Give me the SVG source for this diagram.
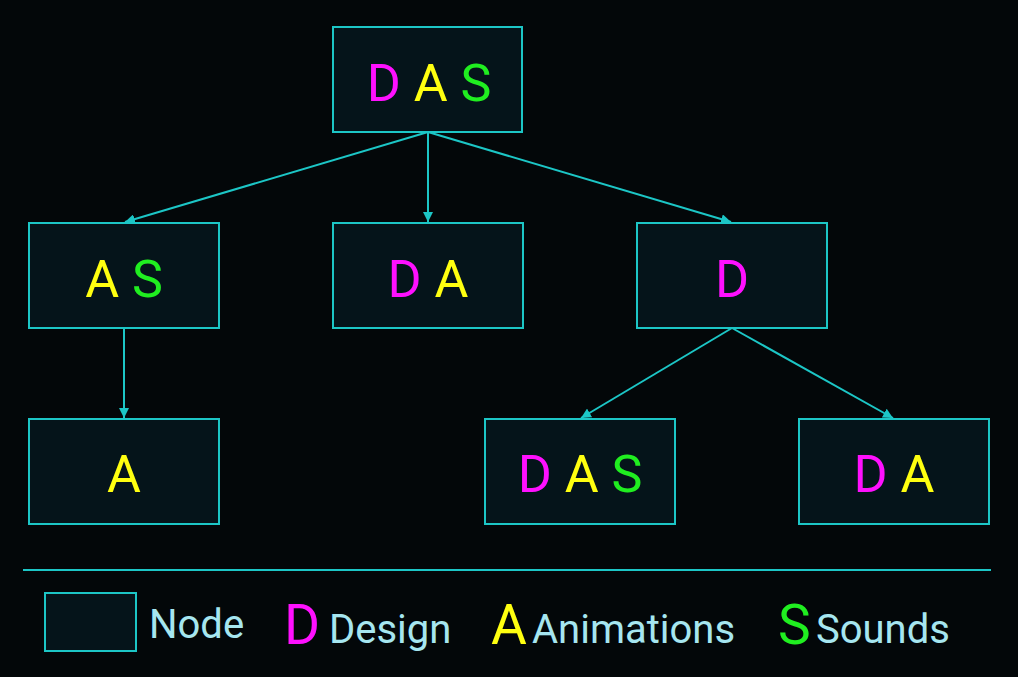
<svg xmlns="http://www.w3.org/2000/svg" width="1018" height="677" viewBox="0 0 1018 677">
<defs>
<style>
.node{fill:#05141a;stroke:#1cc6c6;stroke-width:2}
.lbl{font-family:Roboto,"Liberation Sans",sans-serif;font-size:52px;text-anchor:middle}
.d{fill:#ff10ff}.a{fill:#ffff10}.s{fill:#20ee20}
.edge{stroke:#1cc6c6;stroke-width:2;fill:none;marker-end:url(#arr)}
.leg{font-family:Roboto,"Liberation Sans",sans-serif;font-size:40px;fill:#a6e6f0}
.big{font-family:Roboto,"Liberation Sans",sans-serif;font-size:55px}
</style>
<marker id="arr" viewBox="0 0 10 10" refX="10" refY="5" markerWidth="5" markerHeight="5" orient="auto" markerUnits="strokeWidth">
<path d="M0,0 L10,5 L0,10 z" fill="#1cc6c6"/>
</marker>
</defs>
<rect width="1018" height="677" fill="#030709"/>
<g id="connectors">
<line class="edge" x1="428" y1="132" x2="125" y2="222"/>
<line class="edge" x1="428" y1="132" x2="428" y2="222"/>
<line class="edge" x1="428" y1="132" x2="731" y2="222"/>
<line class="edge" x1="124" y1="328" x2="124" y2="418"/>
<line class="edge" x1="732" y1="328" x2="581" y2="418"/>
<line class="edge" x1="732" y1="328" x2="893" y2="418"/>
</g>
<g id="n-root"><rect class="node" x="333" y="27" width="189" height="105"/>
<text class="lbl" x="429" y="101"><tspan class="d">D</tspan> <tspan class="a">A</tspan> <tspan class="s">S</tspan></text></g>
<g id="n-as"><rect class="node" x="29" y="223" width="190" height="105"/>
<text class="lbl" x="124" y="297"><tspan class="a">A</tspan> <tspan class="s">S</tspan></text></g>
<g id="n-da"><rect class="node" x="333" y="223" width="190" height="105"/>
<text class="lbl" x="428" y="297"><tspan class="d">D</tspan> <tspan class="a">A</tspan></text></g>
<g id="n-d"><rect class="node" x="637" y="223" width="190" height="105"/>
<text class="lbl" x="732" y="297"><tspan class="d">D</tspan></text></g>
<g id="n-a"><rect class="node" x="29" y="419" width="190" height="105"/>
<text class="lbl" x="124" y="492"><tspan class="a">A</tspan></text></g>
<g id="n-das2"><rect class="node" x="485" y="419" width="190" height="105"/>
<text class="lbl" x="580" y="492"><tspan class="d">D</tspan> <tspan class="a">A</tspan> <tspan class="s">S</tspan></text></g>
<g id="n-da2"><rect class="node" x="799" y="419" width="190" height="105"/>
<text class="lbl" x="894" y="492"><tspan class="d">D</tspan> <tspan class="a">A</tspan></text></g>
<g id="legend">
<line x1="23" y1="570" x2="991" y2="570" stroke="#1cc6c6" stroke-width="2"/>
<rect class="node" x="45" y="593" width="91" height="58"/>
<text class="leg" x="149" y="638">Node</text>
<text class="big d" x="284" y="644">D</text>
<text class="leg" x="329" y="643">Design</text>
<text class="big a" x="491" y="644">A</text>
<text class="leg" x="532" y="643">Animations</text>
<text class="big s" x="778" y="644">S</text>
<text class="leg" x="816" y="643">Sounds</text>
</g>
</svg>
